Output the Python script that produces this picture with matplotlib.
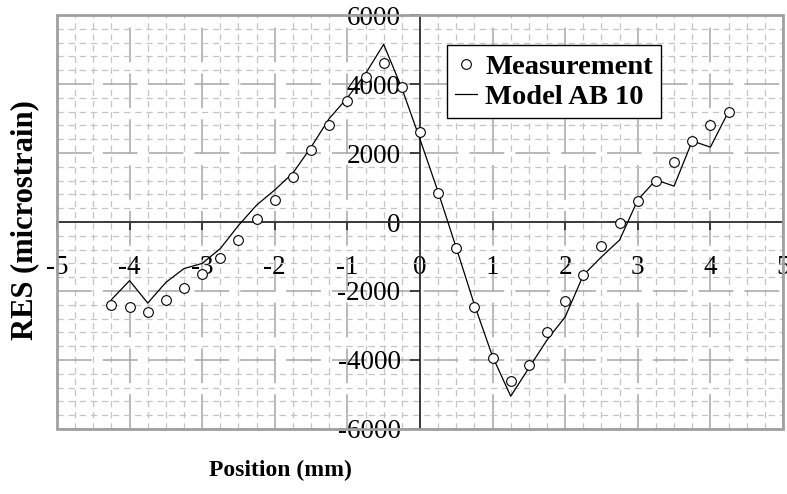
import matplotlib
matplotlib.use("Agg")
from matplotlib import pyplot as plt
from matplotlib.patches import Rectangle
from matplotlib.ticker import MultipleLocator
import numpy as np

# positions along the specimen (mm)
position = np.arange(-4.25, 4.26, 0.25)

measured = [-2400, -2450, -2600, -2250, -1900, -1500, -1050, -520, 100, 650,
            1300, 2100, 2800, 3500, 4200, 4600, 3900, 2600, 850, -750,
            -2450, -3950, -4600, -4150, -3200, -2300, -1550, -700, -30, 600,
            1200, 1750, 2350, 2800, 3200]

model_ab10 = [-2250, -1700, -2350, -1750, -1350, -1200, -770, -100, 490, 930,
              1420, 2170, 3000, 3600, 4300, 5150, 3880, 2400, 870, -750,
              -2400, -3900, -5050, -4230, -3420, -2750, -1540, -1010, -520, 640,
              1220, 1040, 2350, 2170, 3200]

x_ticks = list(range(-5, 6))
y_ticks = list(range(-6000, 6001, 2000))

plt.rcParams["font.family"] = ["Liberation Serif", "DejaVu Serif"]
plt.rcParams["axes.unicode_minus"] = False
plt.rcParams["lines.scale_dashes"] = False

fig = plt.figure(figsize=(7.87, 4.94), dpi=100)
ax = fig.add_axes([0.0724, 0.1316, 0.9225, 0.838])

ax.set_xlim(-5, 5)
ax.set_ylim(-6000, 6000)
ax.set_xticks(x_ticks)
ax.set_yticks(y_ticks)
ax.set_xticklabels([str(v) for v in x_ticks])
ax.set_yticklabels([str(v) for v in y_ticks])
ax.xaxis.set_minor_locator(MultipleLocator(0.25))
ax.yaxis.set_minor_locator(MultipleLocator(400))

# gridlines: long dashes for majors, short dashes for minors
ax.grid(which="major", color="#a6a6a6", linewidth=1.1, linestyle=(0, (25, 8)))
ax.grid(which="minor", color="#c4c4c4", linewidth=0.9, linestyle=(0, (4.5, 3.5)))

# axes crossing at the origin
for side in ["top", "right"]:
    ax.spines[side].set_visible(False)
ax.spines["left"].set_position(("data", 0))
ax.spines["bottom"].set_position(("data", 0))
ax.spines["left"].set_color("#303030")
ax.spines["bottom"].set_color("#303030")
ax.spines["left"].set_linewidth(1.3)
ax.spines["bottom"].set_linewidth(1.3)

ax.tick_params(which="major", direction="out", colors="#303030", width=1.3,
               labelcolor="black", labelsize=19.5)
ax.tick_params(axis="x", which="major", length=6, pad=18)
ax.tick_params(axis="y", which="major", length=7, pad=7)
ax.tick_params(which="minor", length=0)

# plot area border
ax.add_patch(Rectangle((0, 0), 1, 1, transform=ax.transAxes, fill=False,
                       edgecolor="#a0a0a0", linewidth=2, clip_on=False, zorder=3))

ax.plot(position, model_ab10, color="black", linewidth=0.9, label="Model AB 10", zorder=3)
ax.plot(position, measured, linestyle="none", marker="o", markersize=7,
        markerfacecolor="white", markeredgecolor="black", markeredgewidth=0.8,
        label="Measurement", zorder=4)

handles, labels = ax.get_legend_handles_labels()
leg = ax.legend(handles[::-1], labels[::-1], loc="upper left",
                bbox_to_anchor=(0.537, 0.9275), borderaxespad=0,
                prop={"weight": "bold", "size": 20.5}, fancybox=False,
                framealpha=1, edgecolor="black", handlelength=0.75,
                handletextpad=0.3, borderpad=0.3, labelspacing=0.15)
leg.get_frame().set_linewidth(1.0)

fig.text(280 / 787, 1 - 470 / 494, "Position (mm)", ha="center", va="center",
         fontsize=17, fontweight="bold")
fig.text(25 / 787, 1 - 220 / 494, "RES (microstrain)", ha="center", va="center",
         rotation=90, fontsize=22, fontweight="bold")

fig.savefig("out.png", dpi=100)
